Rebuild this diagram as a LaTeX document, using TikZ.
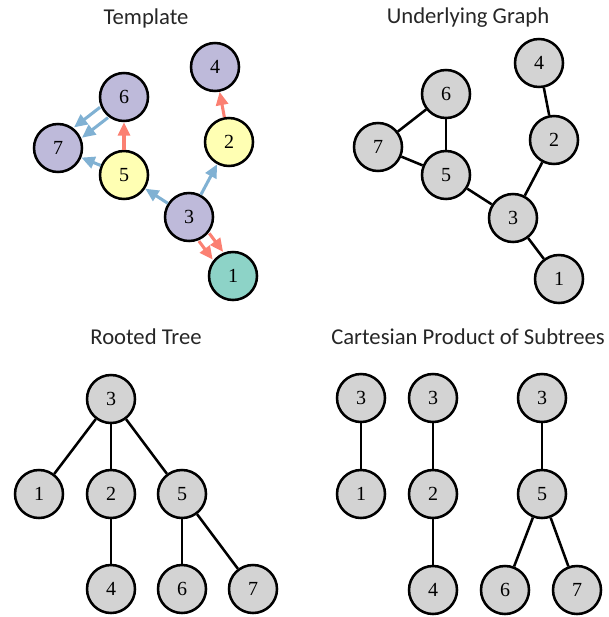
\documentclass[tikz,border=0pt]{standalone}
\usepackage{fontspec}
\setmainfont{Liberation Serif}
\newfontfamily\ttlfont{Carlito}
\usetikzlibrary{arrows.meta}
\definecolor{vgray}{RGB}{211,211,211}
\definecolor{vpurple}{RGB}{190,186,218}
\definecolor{vyellow}{RGB}{255,255,179}
\definecolor{vteal}{RGB}{141,211,199}
\definecolor{ared}{RGB}{251,128,114}
\definecolor{ablue}{RGB}{128,177,211}

\tikzset{every picture/.style={line width=0.75pt}}
\tikzset{
  vtx/.style={circle, draw=black, fill=vgray, line width=1.9pt, minimum size=36pt, inner sep=0pt, font=\fontsize{15}{15}\selectfont},
  ttl/.style={font=\ttlfont\fontsize{17}{20}\selectfont, text=black!85},
  edg/.style={line width=1.9pt},
  redarr/.style={draw=ared, line width=2.3pt, -{Triangle[length=10pt,width=9pt]}},
  bluearr/.style={draw=ablue, line width=2.3pt, -{Triangle[length=10pt,width=9pt]}}
}

\begin{document}
\begin{tikzpicture}[x=0.75pt,y=0.75pt,yscale=-1,xscale=1]

\useasboundingbox (0,0) rectangle (608,617);

\draw (146,18) node [ttl] (tTemplate) {Template};
\draw (468,18) node [ttl] (tUnder) {Underlying Graph};
\draw (146,337) node [ttl] (tRooted) {Rooted Tree};
\draw (468,337) node [ttl] (tCart) {Cartesian Product of Subtrees};

\draw (215,67) node [vtx, fill=vpurple] (a4) {4};
\draw (124,97) node [vtx, fill=vpurple] (a6) {6};
\draw (58,148) node [vtx, fill=vpurple] (a7) {7};
\draw (124,175) node [vtx, fill=vyellow] (a5) {5};
\draw (229,142) node [vtx, fill=vyellow] (a2) {2};
\draw (189,217) node [vtx, fill=vpurple] (a3) {3};
\draw (233,276) node [vtx, fill=vteal] (a1) {1};

\draw [redarr] (a2) -- (a4);
\draw [redarr] (a5) -- (a6);
\draw [bluearr] (a5) -- (a7);
\draw [bluearr] (a3) -- (a5);
\draw [bluearr] (a3) -- (a2);
\draw [bluearr, transform canvas={shift={(3pt,-3.85pt)}}] (a6) -- (a7);
\draw [bluearr, transform canvas={shift={(-3pt,3.85pt)}}] (a6) -- (a7);
\draw [redarr, transform canvas={shift={(3.9pt,2.9pt)}}] (a3) -- (a1);
\draw [redarr, transform canvas={shift={(-3.9pt,-2.9pt)}}] (a3) -- (a1);

\draw (539,63) node [vtx] (b4) {4};
\draw (446,94) node [vtx] (b6) {6};
\draw (378,147) node [vtx] (b7) {7};
\draw (446,175) node [vtx] (b5) {5};
\draw (554,140) node [vtx] (b2) {2};
\draw (513,218) node [vtx] (b3) {3};
\draw (559,279) node [vtx] (b1) {1};

\draw [edg] (b4) -- (b2);
\draw [edg] (b2) -- (b3);
\draw [edg] (b3) -- (b1);
\draw [edg] (b3) -- (b5);
\draw [edg] (b5) -- (b6);
\draw [edg] (b5) -- (b7);
\draw [edg] (b6) -- (b7);

\draw (111,399) node [vtx] (r3) {3};
\draw (39,494) node [vtx] (r1) {1};
\draw (111,494) node [vtx] (r2) {2};
\draw (182,494) node [vtx] (r5) {5};
\draw (111,589) node [vtx] (r4) {4};
\draw (182,589) node [vtx] (r6) {6};
\draw (253,589) node [vtx] (r7) {7};

\draw [edg] (r3) -- (r1);
\draw [edg] (r3) -- (r2);
\draw [edg] (r3) -- (r5);
\draw [edg] (r2) -- (r4);
\draw [edg] (r5) -- (r6);
\draw [edg] (r5) -- (r7);

\draw (361,398) node [vtx] (p3) {3};
\draw (361,494) node [vtx] (p1) {1};
\draw (433,398) node [vtx] (q3) {3};
\draw (433,494) node [vtx] (q2) {2};
\draw (433,590) node [vtx] (q4) {4};
\draw (542,398) node [vtx] (s3) {3};
\draw (542,494) node [vtx] (s5) {5};
\draw (505,590) node [vtx] (s6) {6};
\draw (577,590) node [vtx] (s7) {7};

\draw [edg] (p3) -- (p1);
\draw [edg] (q3) -- (q2);
\draw [edg] (q2) -- (q4);
\draw [edg] (s3) -- (s5);
\draw [edg] (s5) -- (s6);
\draw [edg] (s5) -- (s7);

\end{tikzpicture}
\end{document}
